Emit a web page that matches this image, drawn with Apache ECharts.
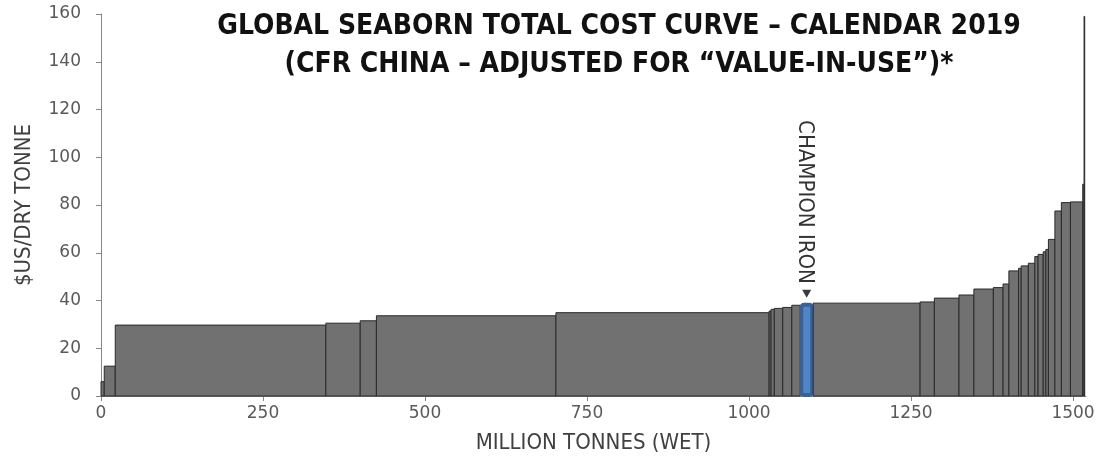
<!DOCTYPE html>
<html>
<head>
<meta charset="utf-8">
<script src="https://cdn.jsdelivr.net/npm/echarts@6/dist/echarts.min.js"></script>
<style>
  html, body { margin: 0; padding: 0; background: #fff; }
  #chart { width: 1115px; height: 460px; }
</style>
</head>
<body>
<div id="chart"></div>
<script>
// Seaborn supply blocks, ordered by cost (width = million tonnes, height = $US/dry tonne)
const tonnes = [5, 17, 325, 53, 25, 277, 329, 3, 5, 13, 14, 13, 20, 165, 22, 38, 23, 30, 15, 9,
                15, 4, 11, 10, 5, 8, 4, 4, 10, 10, 14, 19, 2, 1];
const costs = [6, 12.5, 29.7, 30.5, 31.5, 33.6, 34.9, 35.6, 36.3, 36.7, 37.1, 38.0, 38.6, 38.9, 39.4, 41.0,
               42.3, 44.8, 45.4, 46.9, 52.4, 53.5, 54.5, 55.6, 58.4, 59.3, 60.4, 61.4, 65.6, 77.5,
               81.0, 81.3, 88.7, 159];
const championIndex = 12;
const championLabel = 'CHAMPION IRON';
const xTicks = [0, 250, 500, 750, 1000, 1250, 1500];
const yTicks = [0, 20, 40, 60, 80, 100, 120, 140, 160];
const titleLines = ['GLOBAL SEABORN TOTAL COST CURVE \u2013 CALENDAR 2019',
                    '(CFR CHINA \u2013 ADJUSTED FOR \u201CVALUE-IN-USE\u201D)*'];

// cumulative start / end of each block along the supply axis
const blocks = [];
let acc = 0;
tonnes.forEach((t, i) => {
  blocks.push([acc, acc + t, costs[i], i]);
  acc += t;
});

const condensed = "'DejaVu Sans Condensed', 'Liberation Sans Narrow', 'Roboto', sans-serif";

function renderBlock(params, api) {
  const start = api.value(0), end = api.value(1), cost = api.value(2), idx = api.value(3);
  const p0 = api.coord([start, cost]);
  const p1 = api.coord([end, 0]);
  const x = p0[0], y = p0[1];
  const w = Math.max(p1[0] - p0[0], 0.6);
  const h = p1[1] - p0[1];
  if (idx !== championIndex) {
    return {
      type: 'rect',
      shape: { x: x, y: y, width: w, height: h },
      style: { fill: '#717171', stroke: '#2a2a2a', lineWidth: 1 }
    };
  }
  const cx = x + w / 2;
  return {
    type: 'group',
    children: [
      {
        type: 'rect',
        shape: { x: x + 1, y: y + 1, width: w - 2, height: h - 2, r: 3 },
        style: { fill: '#5186c6', stroke: '#3a6096', lineWidth: 4 }
      },
      {
        type: 'polygon',
        shape: { points: [[cx - 4.5, y - 14], [cx + 4.5, y - 14], [cx, y - 6]] },
        style: { fill: '#3a3a3a' }
      },
      {
        type: 'text',
        x: cx - 2,
        y: y - 20,
        rotation: -Math.PI / 2,
        style: {
          text: championLabel,
          x: 0, y: 0,
          align: 'right',
          verticalAlign: 'middle',
          fill: '#333',
          font: "22px " + condensed
        }
      }
    ]
  };
}

const chart = echarts.init(document.getElementById('chart'), null, { renderer: 'canvas' });
chart.setOption({
  animation: false,
  title: {
    text: titleLines.join('\n'),
    left: 614,
    top: 3,
    textAlign: 'center',
    textStyle: {
      fontFamily: condensed,
      fontWeight: 'bold',
      fontSize: 28,
      lineHeight: 38,
      color: '#111'
    }
  },
  grid: { left: 101, right: 29, top: 14, bottom: 64, containLabel: false, outerBoundsMode: 'none' },
  xAxis: {
    type: 'value',
    min: 0,
    max: 1520,
    name: 'MILLION TONNES (WET)',
    nameLocation: 'middle',
    nameGap: 36,
    nameTextStyle: { fontFamily: condensed, fontSize: 22, color: '#404040' },
    axisLine: { show: true, lineStyle: { color: '#868686', width: 1 } },
    axisTick: { show: true, length: 5, customValues: xTicks, lineStyle: { color: '#868686' } },
    axisLabel: {
      customValues: xTicks, margin: 9, fontFamily: 'DejaVu Sans', fontSize: 17, color: '#595959',
      formatter: v => String(v)
    },
    splitLine: { show: false }
  },
  yAxis: {
    type: 'value',
    min: 0,
    max: 160,
    interval: 20,
    name: '$US/DRY TONNE',
    nameLocation: 'middle',
    nameRotate: 90,
    nameGap: 66,
    nameTextStyle: { fontFamily: condensed, fontSize: 22, color: '#404040' },
    axisLine: { show: true, lineStyle: { color: '#868686', width: 1 } },
    axisTick: { show: true, length: 5, lineStyle: { color: '#868686' } },
    axisLabel: { margin: 20, fontFamily: 'DejaVu Sans', fontSize: 17, color: '#595959' },
    splitLine: { show: false }
  },
  series: [{
    type: 'custom',
    renderItem: renderBlock,
    encode: { x: [0, 1], y: 2 },
    data: blocks,
    clip: false,
    z: 2
  }]
});
</script>
</body>
</html>
